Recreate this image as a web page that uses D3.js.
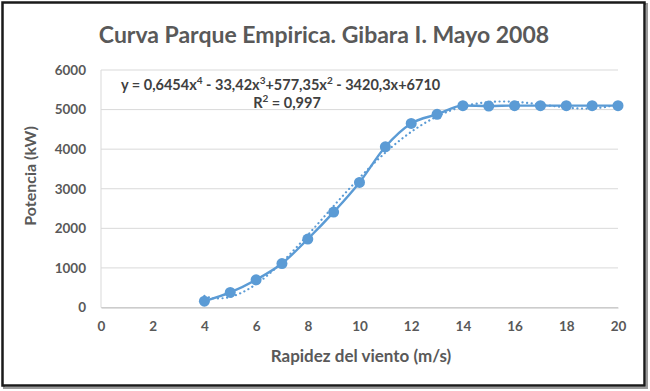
<!DOCTYPE html>
<html>
<head>
<meta charset="utf-8">
<script src="https://cdn.jsdelivr.net/npm/d3@7"></script>
<style>
  body { margin: 0; background: #fff; }
  svg text { font-family: Lato, "Open Sans", sans-serif; }
</style>
</head>
<body>
<div id="chart"></div>
<script>
// Wind speed (m/s) and measured park power (kW)
const speeds = [4, 5, 6, 7, 8, 9, 10, 11, 12, 13, 14, 15, 16, 17, 18, 19, 20];
const power = [160, 380, 700, 1110, 1730, 2410, 3160, 4060, 4650, 4880, 5100, 5090, 5100, 5100, 5100, 5100, 5100];
// trendline coefficients as printed on the chart (x^4 .. x^0)
const trendCoef = [0.6454, -33.42, 577.35, -3420.3, 6710];
const xTicks = [0, 2, 4, 6, 8, 10, 12, 14, 16, 18, 20];
const yTicks = [0, 1000, 2000, 3000, 4000, 5000, 6000];

const width = 650;
const height = 391;
const margin = { top: 70, right: 32, bottom: 83.5, left: 101 };
const blue = "#5b9bd5";
const textGray = "#595959";

const svg = d3.select("#chart").append("svg")
    .attr("width", width)
    .attr("height", height);

// frame
svg.append("rect")
    .attr("x", 4).attr("y", 4)
    .attr("width", width - 7).attr("height", height - 7)
    .attr("fill", "none")
    .attr("stroke", "#9a9a9a")
    .attr("stroke-width", 2);
svg.append("rect")
    .attr("x", 2.5).attr("y", 2.5)
    .attr("width", width - 8).attr("height", height - 8)
    .attr("fill", "#fff")
    .attr("stroke", "#1a1a1a")
    .attr("stroke-width", 2.5);

const x = d3.scaleLinear()
    .domain([0, 20])
    .range([margin.left, width - margin.right]);

const y = d3.scaleLinear()
    .domain([0, 6000])
    .range([height - margin.bottom, margin.top]);

// gridlines
svg.append("g")
    .selectAll("line")
    .data(yTicks)
    .enter()
    .append("line")
    .attr("x1", margin.left)
    .attr("x2", width - margin.right)
    .attr("y1", d => y(d))
    .attr("y2", d => y(d))
    .attr("stroke", "#d9d9d9")
    .attr("stroke-width", 1);

// left axis line
svg.append("line")
    .attr("x1", margin.left).attr("x2", margin.left)
    .attr("y1", margin.top).attr("y2", height - margin.bottom)
    .attr("stroke", "#d9d9d9");

// bottom axis
const xAxis = svg.append("g")
    .attr("transform", `translate(0,${height - margin.bottom})`)
    .call(d3.axisBottom(x).tickValues(xTicks).tickSize(0).tickPadding(14));
xAxis.select(".domain").attr("stroke", "#bfbfbf");
xAxis.selectAll("text")
    .style("font-size", "13.5px")
    .style("font-weight", "bold")
    .attr("fill", textGray);

const yAxis = svg.append("g")
    .attr("transform", `translate(${margin.left},0)`)
    .call(d3.axisLeft(y).tickValues(yTicks).tickSize(0).tickPadding(15).tickFormat(d3.format("d")));
yAxis.select(".domain").remove();
yAxis.selectAll("text")
    .style("font-size", "13.5px")
    .style("font-weight", "bold")
    .attr("fill", textGray);

// polynomial trendline (dotted)
const poly = v => trendCoef.reduce((acc, c) => acc * v + c, 0);
const trendX = d3.range(speeds[0], speeds[speeds.length - 1] + 0.001, 0.1);
svg.append("path")
    .datum(trendX)
    .attr("fill", "none")
    .attr("stroke", blue)
    .attr("stroke-width", 2.2)
    .attr("stroke-dasharray", "0.1 4.5")
    .attr("stroke-linecap", "round")
    .attr("d", d3.line().x(d => x(d)).y(d => y(poly(d))).curve(d3.curveMonotoneX));

// data line
const pts = speeds.map((s, i) => ({ s, p: power[i] }));
svg.append("path")
    .datum(pts)
    .attr("fill", "none")
    .attr("stroke", blue)
    .attr("stroke-width", 2.4)
    .attr("d", d3.line().x(d => x(d.s)).y(d => y(d.p)).curve(d3.curveMonotoneX));

svg.append("g")
    .selectAll("circle")
    .data(pts)
    .enter()
    .append("circle")
    .attr("cx", d => x(d.s))
    .attr("cy", d => y(d.p))
    .attr("r", 5.5)
    .attr("fill", blue);

// title
svg.append("text")
    .attr("x", 324)
    .attr("y", 43)
    .attr("text-anchor", "middle")
    .style("font-size", "23px")
    .style("font-weight", "bold")
    .attr("fill", textGray)
    .text("Curva Parque Empirica. Gibara I. Mayo 2008");

// equation
const eq = svg.append("text")
    .attr("x", 121)
    .attr("y", 90)
    .style("font-size", "14.5px")
    .style("font-weight", "bold")
    .attr("fill", "#404040");
eq.append("tspan").text("y = 0,6454x");
eq.append("tspan").attr("dy", -6).style("font-size", "10px").text("4");
eq.append("tspan").attr("dy", 6).text(" - 33,42x");
eq.append("tspan").attr("dy", -6).style("font-size", "10px").text("3");
eq.append("tspan").attr("dy", 6).text("+577,35x");
eq.append("tspan").attr("dy", -6).style("font-size", "10px").text("2");
eq.append("tspan").attr("dy", 6).text(" - 3420,3x+6710");

const r2 = svg.append("text")
    .attr("x", 287)
    .attr("y", 108)
    .attr("text-anchor", "middle")
    .style("font-size", "14.5px")
    .style("font-weight", "bold")
    .attr("fill", "#404040");
r2.append("tspan").text("R");
r2.append("tspan").attr("dy", -6).style("font-size", "10px").text("2");
r2.append("tspan").attr("dy", 6).text(" = 0,997");

// axis titles
svg.append("text")
    .attr("x", 361)
    .attr("y", 362)
    .attr("text-anchor", "middle")
    .style("font-size", "17px")
    .style("font-weight", "bold")
    .attr("fill", textGray)
    .text("Rapidez del viento (m/s)");

svg.append("text")
    .attr("transform", "rotate(-90)")
    .attr("x", -176)
    .attr("y", 36)
    .attr("text-anchor", "middle")
    .style("font-size", "16px")
    .style("font-weight", "bold")
    .attr("fill", textGray)
    .text("Potencia (kW)");
</script>
</body>
</html>
